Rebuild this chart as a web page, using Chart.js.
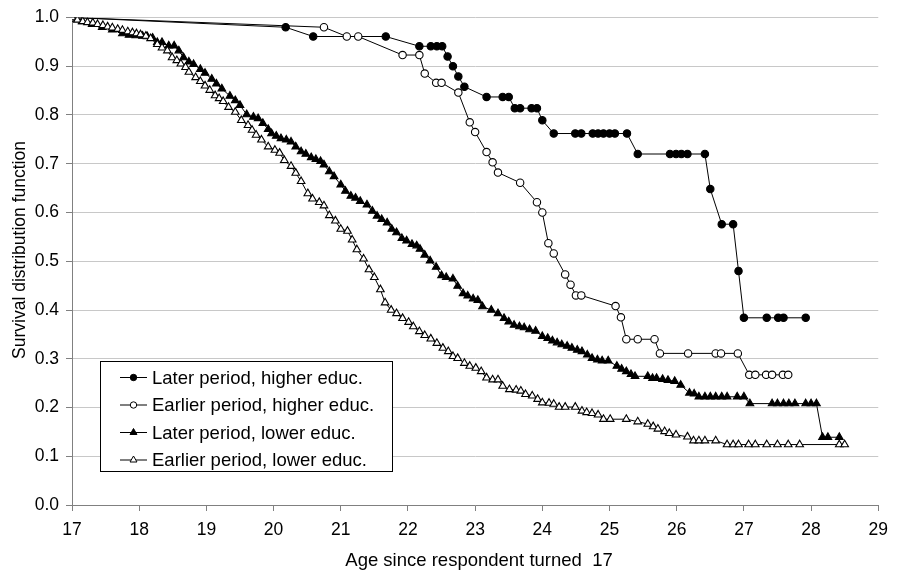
<!DOCTYPE html>
<html>
<head>
<meta charset="utf-8">
<script src="https://cdn.jsdelivr.net/npm/chart.js@4"></script>
<style>
html,body{margin:0;padding:0;background:#fff;}
#wrap{width:897px;height:570px;}
</style>
</head>
<body>
<div id="wrap"><canvas id="c" width="897" height="570"></canvas></div>
<script>
const seriesLabels = [
  "Later period, higher educ.",
  "Earlier period, higher educ.",
  "Later period, lower educ.",
  "Earlier period, lower educ."
];
const xTickValues = [17,18,19,20,21,22,23,24,25,26,27,28,29];
const yTickValues = [0,0.1,0.2,0.3,0.4,0.5,0.6,0.7,0.8,0.9,1.0];

const xLaterHigher = [17,20.18,20.59,21.67,22.17,22.34,22.43,22.51,22.59,22.67,22.75,22.84,23.17,23.41,23.50,23.59,23.67,23.84,23.92,24.0,24.17,24.49,24.58,24.75,24.83,24.91,25.0,25.08,25.26,25.42,25.90,25.99,26.07,26.16,26.42,26.50,26.67,26.84,26.92,27.0,27.34,27.51,27.59,27.92];
const yLaterHigher = [1.0,0.980,0.961,0.961,0.941,0.941,0.941,0.941,0.920,0.900,0.879,0.858,0.837,0.837,0.837,0.814,0.814,0.814,0.814,0.789,0.762,0.762,0.762,0.762,0.762,0.762,0.762,0.762,0.762,0.720,0.720,0.720,0.720,0.720,0.720,0.648,0.576,0.576,0.480,0.384,0.384,0.384,0.384,0.384];

const xEarlierHigher = [17,20.75,21.09,21.26,21.92,22.17,22.25,22.42,22.50,22.75,22.92,23.0,23.17,23.26,23.34,23.67,23.92,24.0,24.09,24.17,24.34,24.42,24.50,24.58,25.09,25.17,25.25,25.42,25.67,25.75,26.17,26.58,26.66,26.91,27.08,27.17,27.33,27.42,27.58,27.66];
const yEarlierHigher = [1.0,0.980,0.961,0.961,0.923,0.923,0.885,0.866,0.866,0.846,0.785,0.765,0.724,0.703,0.682,0.661,0.621,0.600,0.537,0.516,0.473,0.452,0.430,0.430,0.408,0.385,0.340,0.340,0.340,0.311,0.311,0.311,0.311,0.311,0.267,0.267,0.267,0.267,0.267,0.267];

const xLaterLower = [17.0,17.15,17.3,17.45,17.6,17.75,17.85,17.95,18.05,18.12,18.2,18.27,18.34,18.44,18.52,18.59,18.66,18.74,18.81,18.91,18.98,19.08,19.15,19.23,19.35,19.43,19.50,19.60,19.70,19.77,19.84,19.92,19.97,20.04,20.11,20.19,20.26,20.33,20.41,20.48,20.56,20.63,20.70,20.75,20.83,20.90,21.00,21.07,21.15,21.22,21.29,21.39,21.47,21.54,21.61,21.69,21.76,21.83,21.91,21.98,22.06,22.13,22.18,22.25,22.33,22.42,22.50,22.57,22.67,22.74,22.82,22.89,22.97,23.04,23.11,23.24,23.34,23.43,23.50,23.58,23.66,23.73,23.81,23.90,24.0,24.08,24.15,24.22,24.29,24.37,24.44,24.52,24.59,24.67,24.74,24.82,24.89,24.98,25.11,25.18,25.25,25.32,25.38,25.57,25.64,25.70,25.79,25.87,25.97,26.06,26.19,26.26,26.33,26.42,26.50,26.58,26.67,26.75,26.90,27.0,27.09,27.42,27.50,27.59,27.67,27.76,27.92,28.0,28.08,28.17,28.25,28.42];
const yLaterLower = [1.0,0.992,0.986,0.980,0.975,0.967,0.964,0.963,0.962,0.961,0.958,0.949,0.949,0.942,0.942,0.932,0.918,0.909,0.904,0.894,0.886,0.874,0.864,0.854,0.839,0.830,0.820,0.801,0.796,0.793,0.783,0.771,0.762,0.757,0.752,0.749,0.745,0.735,0.725,0.720,0.713,0.709,0.705,0.698,0.684,0.674,0.657,0.644,0.634,0.630,0.623,0.616,0.603,0.593,0.586,0.579,0.566,0.559,0.547,0.542,0.535,0.532,0.525,0.513,0.501,0.488,0.471,0.467,0.464,0.449,0.434,0.429,0.423,0.420,0.407,0.400,0.393,0.383,0.376,0.369,0.366,0.364,0.360,0.357,0.346,0.342,0.337,0.333,0.329,0.326,0.322,0.318,0.315,0.308,0.301,0.298,0.296,0.296,0.285,0.279,0.274,0.268,0.264,0.264,0.260,0.260,0.258,0.256,0.254,0.246,0.230,0.228,0.222,0.222,0.222,0.222,0.222,0.222,0.222,0.222,0.208,0.208,0.208,0.208,0.208,0.208,0.208,0.208,0.208,0.139,0.139,0.139];

const xEarlierLower = [17.0,17.08,17.16,17.23,17.31,17.38,17.46,17.53,17.60,17.68,17.75,17.83,17.90,17.96,18.02,18.10,18.17,18.27,18.34,18.42,18.49,18.56,18.62,18.69,18.74,18.84,18.91,18.98,19.05,19.13,19.19,19.25,19.33,19.43,19.52,19.62,19.68,19.74,19.82,19.92,20.02,20.09,20.16,20.26,20.33,20.41,20.51,20.58,20.68,20.75,20.83,20.92,21.0,21.10,21.17,21.24,21.34,21.42,21.50,21.59,21.66,21.75,21.83,21.92,22.01,22.08,22.17,22.25,22.34,22.43,22.52,22.60,22.67,22.74,22.84,22.92,23.01,23.09,23.17,23.26,23.34,23.41,23.51,23.61,23.68,23.75,23.85,23.93,24.0,24.10,24.17,24.25,24.34,24.49,24.59,24.66,24.74,24.83,24.91,25.01,25.25,25.42,25.57,25.65,25.72,25.82,25.89,25.99,26.16,26.25,26.33,26.42,26.58,26.75,26.84,26.92,27.07,27.17,27.34,27.50,27.66,27.83,28.42,28.50];
const yEarlierLower = [1.0,0.995,0.992,0.990,0.989,0.986,0.984,0.981,0.979,0.976,0.974,0.971,0.969,0.967,0.965,0.962,0.957,0.945,0.938,0.932,0.918,0.912,0.905,0.898,0.888,0.877,0.869,0.860,0.851,0.840,0.834,0.828,0.816,0.806,0.789,0.779,0.769,0.759,0.749,0.735,0.728,0.722,0.707,0.695,0.681,0.664,0.639,0.628,0.621,0.614,0.594,0.583,0.566,0.562,0.544,0.524,0.505,0.483,0.467,0.442,0.415,0.400,0.393,0.383,0.375,0.366,0.356,0.348,0.341,0.332,0.322,0.315,0.305,0.301,0.291,0.285,0.281,0.274,0.261,0.257,0.257,0.244,0.237,0.236,0.234,0.227,0.224,0.217,0.210,0.209,0.207,0.201,0.201,0.201,0.193,0.190,0.188,0.185,0.176,0.176,0.176,0.171,0.166,0.161,0.156,0.151,0.147,0.144,0.140,0.132,0.132,0.132,0.132,0.124,0.124,0.124,0.124,0.124,0.124,0.124,0.124,0.124,0.124,0.124];

const FONT = "'Liberation Sans', Arial, sans-serif";

function pts(xs, ys){ return xs.map((x,i)=>({x:x, y:ys[i]})); }

function mk(label, xs, ys, style, fill, radius, order){
  return {
    label: label,
    data: pts(xs, ys),
    showLine: true,
    borderColor: '#000',
    borderWidth: 1,
    tension: 0,
    pointStyle: style,
    pointRadius: radius,
    pointHoverRadius: radius,
    pointBackgroundColor: fill,
    pointBorderColor: '#000',
    pointBorderWidth: 1.1,
    order: order
  };
}

const datasets = [
  mk(seriesLabels[0], xLaterHigher, yLaterHigher, 'circle', '#000', 3.7, 3),
  mk(seriesLabels[1], xEarlierHigher, yEarlierHigher, 'circle', '#fff', 3.7, 2),
  mk(seriesLabels[2], xLaterLower, yLaterLower, 'triangle', '#000', 4.4, 1),
  mk(seriesLabels[3], xEarlierLower, yEarlierLower, 'triangle', '#fff', 4.4, 0)
];

const extras = {
  id: 'extras',
  afterDraw(chart){
    const ctx = chart.ctx;
    ctx.save();
    // axis titles
    ctx.fillStyle = '#000';
    ctx.font = '18.5px ' + FONT;
    ctx.textAlign = 'center';
    ctx.textBaseline = 'middle';
    ctx.fillText('Age since respondent turned  17', 479, 561);
    ctx.save();
    ctx.translate(20, 250);
    ctx.rotate(-Math.PI/2);
    ctx.font = '17.5px ' + FONT;
    ctx.fillText('Survival distribution function', 0, 0);
    ctx.restore();
    // legend box
    const bx = 100.5, by = 361.5, bw = 292, bh = 110;
    ctx.fillStyle = '#fff';
    ctx.fillRect(bx, by, bw, bh);
    ctx.strokeStyle = '#000';
    ctx.lineWidth = 1;
    ctx.strokeRect(bx, by, bw, bh);
    const rowY = [377.5, 405, 432.5, 460];
    datasets.forEach((ds, i) => {
      const y = rowY[i];
      ctx.beginPath();
      ctx.strokeStyle = '#000';
      ctx.lineWidth = 1;
      ctx.moveTo(120, y);
      ctx.lineTo(147, y);
      ctx.stroke();
      ctx.fillStyle = ds.pointBackgroundColor;
      ctx.strokeStyle = '#000';
      Chart.helpers.drawPoint(ctx, {pointStyle: ds.pointStyle, radius: ds.pointStyle === 'circle' ? 3.2 : 4, borderWidth: 1, rotation: 0}, 133.5, y);
      ctx.fillStyle = '#000';
      ctx.font = '18.5px ' + FONT;
      ctx.textAlign = 'left';
      ctx.textBaseline = 'middle';
      ctx.fillText(ds.label, 152, y + 1);
    });
    ctx.restore();
  }
};

new Chart(document.getElementById('c'), {
  type: 'scatter',
  data: { datasets: datasets },
  options: {
    responsive: false,
    animation: false,
    devicePixelRatio: 1,
    layout: { padding: { left: 0, right: 11, top: 13, bottom: 0 } },
    plugins: { legend: { display: false }, tooltip: { enabled: false } },
    scales: {
      x: {
        type: 'linear',
        min: 17, max: 29,
        afterFit(s){ s.height = 65; },
        afterBuildTicks(s){ s.ticks = xTickValues.map(v => ({value: v})); },
        ticks: { color: '#000', font: { family: FONT, size: 17.5 }, padding: 9, maxRotation: 0, autoSkip: false,
          callback: v => String(v) },
        grid: { drawOnChartArea: false, drawTicks: true, tickLength: 6, tickColor: '#808080', tickWidth: 1 },
        border: { display: true, color: '#808080', width: 1 }
      },
      y: {
        type: 'linear',
        min: 0, max: 1.0,
        afterFit(s){ s.width = 72; },
        afterBuildTicks(s){ s.ticks = yTickValues.map(v => ({value: v})); },
        ticks: { color: '#000', font: { family: FONT, size: 17.5 }, padding: 7, autoSkip: false,
          callback: v => Number(v).toFixed(1) },
        grid: { color: '#c8c8c8', lineWidth: 1, borderDash: [7, 8], drawTicks: true, tickLength: 6, tickColor: '#808080', tickWidth: 1, tickBorderDash: [] },
        border: { display: true, color: '#808080', width: 1 }
      }
    }
  },
  plugins: [extras]
});
</script>
</body>
</html>
